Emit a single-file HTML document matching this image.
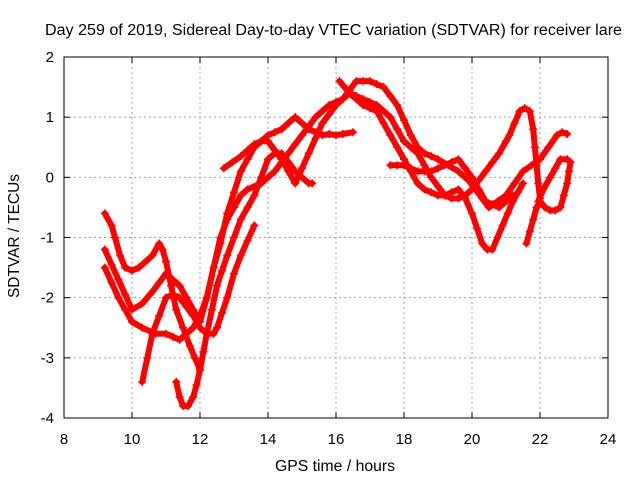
<!DOCTYPE html>
<html><head><meta charset="utf-8"><style>
body{margin:0;background:#fff}
svg text{font-family:"Liberation Sans",sans-serif;font-size:15px;fill:#000}
</style></head><body>
<svg id="chart" width="640" height="480" xmlns="http://www.w3.org/2000/svg">
<text x="45" y="35" textLength="577" lengthAdjust="spacingAndGlyphs" style="font-size:15.5px">Day 259 of 2019, Sidereal Day-to-day VTEC variation (SDTVAR) for receiver lare</text>
<text x="275" y="471" textLength="120" lengthAdjust="spacingAndGlyphs" style="font-size:15.5px">GPS time / hours</text>
<text transform="translate(19,298) rotate(-90)" textLength="124" lengthAdjust="spacingAndGlyphs" style="font-size:15.5px">SDTVAR / TECUs</text>
<g id="grid"></g><g id="marks"></g><g id="axes"></g>
</svg>
<script>
const xTicks=[8,10,12,14,16,18,20,22,24];
const yTicks=[-4,-3,-2,-1,0,1,2];
const t1=[[9.2,-0.6],[9.4,-0.8],[9.5,-1.0],[9.65,-1.3],[9.8,-1.5],[10.0,-1.55],[10.2,-1.5],[10.4,-1.4],[10.6,-1.3],[10.8,-1.1],[10.9,-1.2],[11.0,-1.4],[11.15,-1.8],[11.3,-2.2],[11.5,-2.5],[11.7,-2.8],[11.85,-3.0],[12.0,-3.2]];
const t2=[[9.2,-1.2],[9.4,-1.45],[9.6,-1.7],[9.8,-1.95],[10.0,-2.2],[10.3,-2.1],[10.6,-1.9],[10.8,-1.75],[11.0,-1.6],[11.2,-1.7],[11.4,-1.8],[11.6,-2.0],[11.8,-2.2],[12.0,-2.4],[12.2,-2.0],[12.4,-1.5],[12.6,-1.1],[12.8,-0.6],[13.0,-0.25],[13.2,0.1],[13.4,0.3],[13.6,0.5],[13.8,0.6],[14.0,0.7],[14.2,0.75],[14.4,0.8],[14.6,0.9],[14.8,1.0],[15.0,0.9],[15.2,0.8],[15.4,0.75],[15.6,0.7],[15.8,0.72],[16.0,0.7],[16.2,0.72],[16.5,0.75]];
const t3=[[9.2,-1.5],[9.4,-1.75],[9.6,-2.0],[9.8,-2.2],[10.0,-2.4],[10.3,-2.5],[10.7,-2.6],[11.0,-2.6],[11.2,-2.65],[11.4,-2.7],[11.6,-2.6],[11.8,-2.5],[12.0,-2.3],[12.2,-2.0],[12.4,-1.5],[12.6,-1.0],[12.8,-0.7],[13.0,-0.5],[13.2,-0.3],[13.4,-0.2],[13.8,-0.1],[14.2,0.1],[14.4,0.25],[14.6,0.4],[14.8,0.55],[15.0,0.7],[15.2,0.85],[15.4,1.0],[15.6,1.1],[15.8,1.2],[16.0,1.25],[16.2,1.3],[16.4,1.45],[16.6,1.6],[16.8,1.6],[17.0,1.6],[17.2,1.55],[17.4,1.5],[17.6,1.35],[17.8,1.2],[18.0,0.95],[18.2,0.7],[18.4,0.5],[18.6,0.4],[18.8,0.35],[19.0,0.3],[19.3,0.2],[19.6,0.1],[19.9,-0.05],[20.1,-0.2],[20.3,-0.35],[20.5,-0.5],[20.75,-0.4],[21.0,-0.3],[21.25,-0.1],[21.5,0.1],[21.75,0.2],[22.0,0.3],[22.25,0.5],[22.5,0.7],[22.65,0.75],[22.8,0.72]];
const t4=[[10.3,-3.4],[10.45,-3.0],[10.6,-2.6],[10.8,-2.3],[11.0,-2.0],[11.2,-1.95],[11.4,-2.0],[11.6,-2.15],[11.8,-2.3],[12.0,-2.5],[12.2,-2.6],[12.4,-2.6],[12.5,-2.5],[12.65,-2.25],[12.8,-2.0],[13.0,-1.6],[13.2,-1.3],[13.4,-1.05],[13.6,-0.8]];
const t5=[[11.3,-3.4],[11.4,-3.65],[11.5,-3.8],[11.65,-3.8],[11.8,-3.65],[11.9,-3.45],[12.0,-3.2],[12.1,-2.9],[12.2,-2.6],[12.35,-2.2],[12.5,-1.8],[12.65,-1.55],[12.8,-1.3],[13.0,-1.0],[13.2,-0.7],[13.4,-0.5],[13.6,-0.3],[13.8,0.0],[14.0,0.3],[14.2,0.4],[14.4,0.4],[14.6,0.25],[14.8,0.1],[15.0,0.0],[15.2,-0.1],[15.3,-0.1]];
const t6=[[12.7,0.15],[12.95,0.25],[13.2,0.35],[13.4,0.45],[13.6,0.55],[13.8,0.6],[14.0,0.6],[14.2,0.45],[14.4,0.3],[14.6,0.1],[14.8,-0.1],[15.0,0.15],[15.2,0.4],[15.4,0.65],[15.6,0.9],[15.8,1.05],[16.0,1.2],[16.2,1.3],[16.4,1.4],[16.6,1.35],[16.8,1.3],[17.0,1.25],[17.2,1.2],[17.4,1.1],[17.6,1.0],[17.8,0.8],[18.0,0.6],[18.2,0.5],[18.4,0.4],[18.6,0.2],[18.8,0.0],[19.0,-0.15],[19.2,-0.3],[19.4,-0.35],[19.6,-0.35],[19.8,-0.3],[20.0,-0.2],[20.2,-0.05],[20.4,0.1],[20.6,0.25],[20.8,0.4],[21.0,0.6],[21.1,0.7],[21.25,0.9],[21.4,1.1],[21.55,1.15],[21.7,1.1],[21.8,0.8],[21.85,0.5],[21.9,0.2],[21.95,-0.1],[22.0,-0.35]];
const t7=[[16.1,1.6],[16.25,1.5],[16.4,1.4],[16.6,1.3],[16.8,1.2],[17.0,1.15],[17.2,1.1],[17.4,0.9],[17.6,0.7],[17.8,0.5],[18.0,0.3],[18.2,0.1],[18.4,-0.1],[18.6,-0.2],[18.8,-0.25],[19.0,-0.3],[19.2,-0.3],[19.4,-0.25],[19.6,-0.2],[19.8,-0.35],[20.0,-0.6],[20.15,-0.85],[20.3,-1.1],[20.45,-1.2],[20.6,-1.2],[20.75,-1.0],[20.9,-0.8],[21.05,-0.6],[21.2,-0.4],[21.35,-0.25],[21.5,-0.1]];
const t8=[[17.6,0.2],[17.8,0.2],[18.0,0.2],[18.2,0.15],[18.4,0.1],[18.6,0.1],[18.8,0.1],[19.0,0.15],[19.2,0.2],[19.4,0.25],[19.6,0.3],[19.8,0.15],[20.0,0.0],[20.2,-0.2],[20.4,-0.4],[20.6,-0.45],[20.8,-0.5],[21.0,-0.4],[21.2,-0.3]];
const t9=[[21.6,-1.1],[21.7,-0.9],[21.8,-0.7],[21.9,-0.5],[22.0,-0.4],[22.15,-0.5],[22.3,-0.55],[22.45,-0.55],[22.6,-0.5],[22.7,-0.3],[22.8,-0.1],[22.85,0.1],[22.9,0.25],[22.8,0.3],[22.6,0.3],[22.45,0.15],[22.3,0.0],[22.1,-0.2],[21.95,-0.4]];
const tracks=[t1,t2,t3,t4,t5,t6,t7,t8,t9];
const L=64,R=608,T=57,B=418;
const X=v=>L+(v-8)/(24-8)*(R-L);
const Y=v=>B-(v+4)/(2+4)*(B-T);
const NS="http://www.w3.org/2000/svg";
function mk(tag,attrs,parent){const e=document.createElementNS(NS,tag);for(const k in attrs)e.setAttribute(k,attrs[k]);parent.appendChild(e);return e;}
const grid=document.getElementById('grid'),axes=document.getElementById('axes'),marks=document.getElementById('marks');
xTicks.forEach(t=>{const x=X(t);
 if(t>8&&t<24){const g=mk('line',{x1:x,x2:x,y1:T,y2:B,stroke:'#a0a0a0','stroke-dasharray':'2,3'},grid);}
 const a=mk('line',{x1:x,x2:x,y1:B,y2:B-6,stroke:'#000'},axes);
 const b=mk('line',{x1:x,x2:x,y1:T,y2:T+6,stroke:'#000'},axes);
 const l=mk('text',{x:x,y:B+26,'text-anchor':'middle'},axes);l.textContent=t;});
yTicks.forEach(t=>{const y=Y(t);
 if(t>-4&&t<2){const g=mk('line',{x1:L,x2:R,y1:y,y2:y,stroke:'#a0a0a0','stroke-dasharray':'2,3'},grid);}
 const a=mk('line',{x1:L,x2:L+6,y1:y,y2:y,stroke:'#000'},axes);
 const b=mk('line',{x1:R,x2:R-6,y1:y,y2:y,stroke:'#000'},axes);
 const l=mk('text',{x:L-10,y:y+5,'text-anchor':'end'},axes);l.textContent=t;});
const fr=mk('rect',{x:L,y:T,width:R-L,height:B-T,fill:'none',stroke:'#000'},axes);


tracks.forEach((tr,i)=>{
 const g=mk('g',{},marks);
 
 
 const pl=mk('polyline',{points:tr.map(p=>X(p[0])+','+Y(p[1])).join(' '),fill:'none',stroke:'#ff0000','stroke-width':6,'stroke-linejoin':'round','stroke-linecap':'round'},g);
 
 
 tr.forEach(p=>{const x=X(p[0]),y=Y(p[1]);
  const m=mk('path',{d:`M${x-4},${y}h8M${x},${y-4}v8`,stroke:'#ff0000','stroke-width':1.5},g);
  
  });
});
</script>
</body></html>
